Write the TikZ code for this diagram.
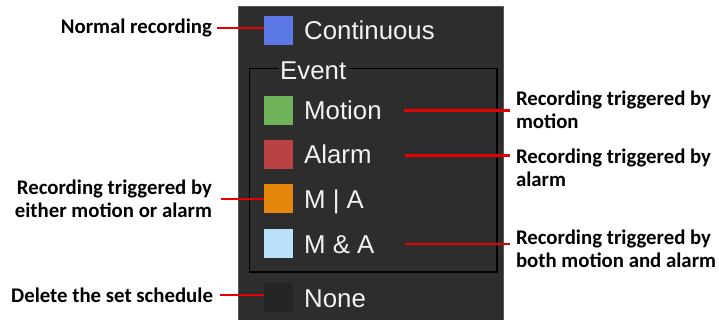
\documentclass[tikz,border=0pt]{standalone}
\usepackage{fontspec}
\setmainfont{Liberation Sans}
\newfontfamily\calib{Carlito}
\definecolor{panel}{HTML}{2D2D2D}
\definecolor{panelborder}{HTML}{585858}
\definecolor{uitext}{HTML}{F2F2F2}
\definecolor{cblue}{RGB}{91,120,230}
\definecolor{cgreen}{RGB}{110,178,90}
\definecolor{cred}{RGB}{185,65,65}
\definecolor{corange}{RGB}{228,135,10}
\definecolor{clight}{RGB}{185,225,250}
\definecolor{cnone}{RGB}{36,36,36}
\definecolor{conncol}{RGB}{230,0,0}
\newcommand{\uifont}{\fontsize{25.8}{30}\selectfont}
\newcommand{\notefont}{\calib\bfseries\fontsize{20.8}{22.5}\selectfont}
\begin{document}
\begin{tikzpicture}[x=1pt,y=-1pt,
  sq/.style={minimum size=29pt, inner sep=0pt, outer sep=0pt, line width=0pt},
  ui/.style={font=\uifont, text=uitext, inner sep=0pt, anchor=base west},
  note/.style={font=\notefont, text=black, inner sep=0pt, outer sep=0pt},
  conn/.style={draw=conncol, line width=2.2pt}]
\useasboundingbox (0,0) rectangle (719,320);
\fill[white] (0,0) rectangle (719,320);
% panel
\filldraw[fill=panel, draw=panelborder, line width=1pt] (238.5,6.5) rectangle (503.5,330);
% event group box
\draw[black, line width=1.3pt] (249.5,68.5) rectangle (497,272);
\node[ui, fill=panel, inner xsep=2pt] (ev) at (278,80) {Event};
% squares
\node[sq, fill=cblue]   (sqC)  at (278.5,30.5)  {};
\node[sq, fill=cgreen]  (sqM)  at (278.5,110.5) {};
\node[sq, fill=cred]    (sqA)  at (278.5,154.5) {};
\node[sq, fill=corange] (sqMA) at (278.5,199)   {};
\node[sq, fill=clight]  (sqMN) at (278.5,243.5) {};
\node[sq, fill=cnone]   (sqN)  at (278.5,297.5) {};
% panel texts
\node[ui] (tC)  at (304,40)  {Continuous};
\node[ui] (tM)  at (304,120) {Motion};
\node[ui] (tA)  at (304,164) {Alarm};
\node[ui] (tMA) at (304,209) {M | A};
\node[ui] (tMN) at (304,253) {M \& A};
\node[ui] (tN)  at (304,307) {None};
% left notes
\node[note, anchor=north east, align=right] (lN) at (212,19) {Normal recording};
\node[note, anchor=north east, align=right] (lE) at (212,180) {Recording triggered by\\either motion or alarm};
\node[note, anchor=north east, align=right] (lD) at (213,288) {Delete the set schedule};
% right notes
\node[note, anchor=north west, align=left] (rM) at (516,91) {Recording triggered by\\motion};
\node[note, anchor=north west, align=left] (rA) at (516,149) {Recording triggered by\\alarm};
\node[note, anchor=north west, align=left] (rB) at (516,230) {Recording triggered by\\both motion and alarm};
% connectors
\draw[conn] ([xshift=5pt]lN.east) -- (lN.east -| sqC.west);
\draw[conn] ([xshift=9pt]lE.east) -- (lE.east -| sqMA.west);
\draw[conn] ([xshift=7pt]lD.east) -- (lD.east -| sqN.west);
\coordinate (cM) at (404,110.5);
\coordinate (cA) at (405,155.5);
\coordinate (cB) at (405,244);
\draw[conn] (cM) -- ([xshift=-6pt]cM -| rM.west);
\draw[conn] (cA) -- ([xshift=-6pt]cA -| rA.west);
\draw[conn] (cB) -- ([xshift=-6pt]cB -| rB.west);
\end{tikzpicture}
\end{document}
